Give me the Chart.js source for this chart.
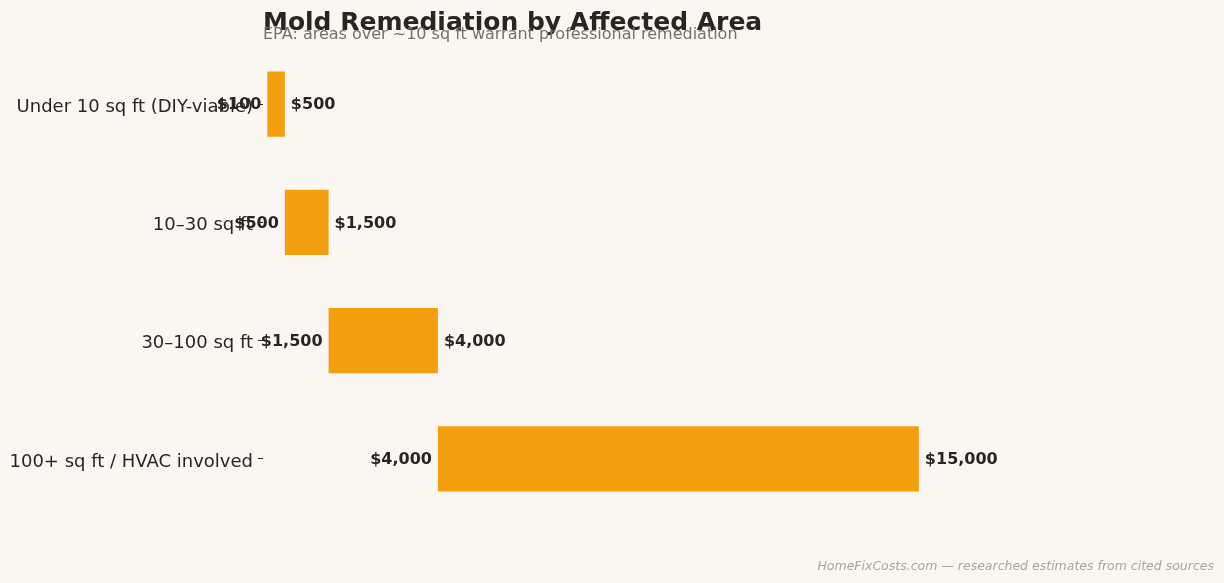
<!DOCTYPE html>
<html>
<head>
<meta charset="utf-8">
<script src="https://cdn.jsdelivr.net/npm/chart.js@4"></script>
<style>
  html, body { margin: 0; padding: 0; background: #faf7f3; font-family: 'DejaVu Sans'; }
  #wrap { width: 1224px; height: 583px; }
  .probe { position: absolute; left: -9999px; font-family: 'DejaVu Sans'; }
</style>
</head>
<body>
<span class="probe">Mold <b>Bold</b> <i>italic</i></span>
<div id="wrap"><canvas id="moldChart" width="1224" height="583"></canvas></div>
<script>
// data
const areas = ['Under 10 sq ft (DIY-viable)', '10\u201330 sq ft', '30\u2013100 sq ft', '100+ sq ft / HVAC involved'];
const lowCost = [100, 500, 1500, 4000];
const highCost = [500, 1500, 4000, 15000];

const titleText = 'Mold Remediation by Affected Area';
const subtitleText = 'EPA: areas over ~10 sq ft warrant professional remediation';
const footerText = 'HomeFixCosts.com \u2014 researched estimates from cited sources';

const ink = '#2b2522';
const fam = "'DejaVu Sans', sans-serif";
const fmt = v => '$' + v.toLocaleString('en-US');

// title, subtitle, value labels and footer
const decorations = {
    id: 'decorations',
    afterDatasetsDraw(chart) {
        const ctx = chart.ctx;
        const area = chart.chartArea;
        ctx.save();
        ctx.textBaseline = 'middle';

        ctx.fillStyle = ink;
        ctx.font = 'bold 25px ' + fam;
        ctx.textAlign = 'left';
        ctx.fillText(titleText, area.left, 23);

        ctx.fillStyle = '#77706a';
        ctx.font = '16px ' + fam;
        ctx.fillText(subtitleText, area.left, 35);

        const meta = chart.getDatasetMeta(0);
        ctx.font = 'bold 16px ' + fam;
        ctx.fillStyle = ink;
        meta.data.forEach((bar, i) => {
            const x0 = chart.scales.x.getPixelForValue(lowCost[i]);
            const x1 = chart.scales.x.getPixelForValue(highCost[i]);
            ctx.textAlign = 'right';
            ctx.fillText(fmt(lowCost[i]), x0 - 6, bar.y + 1);
            ctx.textAlign = 'left';
            ctx.fillText(fmt(highCost[i]), x1 + 6, bar.y + 1);
        });

        ctx.fillStyle = '#aaa49e';
        ctx.font = 'italic 12.5px ' + fam;
        ctx.textAlign = 'right';
        ctx.fillText(footerText, chart.width - 10, 567);
        ctx.restore();
    }
};

function drawChart() {
    const ctx = document.getElementById('moldChart').getContext('2d');
    new Chart(ctx, {
        type: 'bar',
        data: {
            labels: areas,
            datasets: [{
                data: areas.map((a, i) => [lowCost[i], highCost[i]]),
                backgroundColor: '#f39f0f',
                borderWidth: 0,
                barPercentage: 0.55,
                categoryPercentage: 1.0
            }]
        },
        options: {
            indexAxis: 'y',
            responsive: false,
            animation: false,
            layout: { padding: { top: 45, bottom: 65, left: 0, right: 10 } },
            scales: {
                x: {
                    display: false,
                    min: 0,
                    max: 21750
                },
                y: {
                    afterFit(scale) { scale.width = 263; },
                    border: { display: false },
                    grid: {
                        offset: false,
                        drawOnChartArea: false,
                        drawTicks: true,
                        tickLength: 5,
                        color: ink
                    },
                    ticks: {
                        color: ink,
                        padding: 5,
                        labelOffset: 3,
                        font: { family: fam, size: 18 }
                    }
                }
            },
            plugins: {
                legend: { display: false },
                tooltip: { enabled: false }
            }
        },
        plugins: [decorations]
    });
}

Promise.all([
    document.fonts.load("16px 'DejaVu Sans'"),
    document.fonts.load("bold 16px 'DejaVu Sans'"),
    document.fonts.load("italic 12px 'DejaVu Sans'")
]).then(drawChart, drawChart);
</script>
</body>
</html>
